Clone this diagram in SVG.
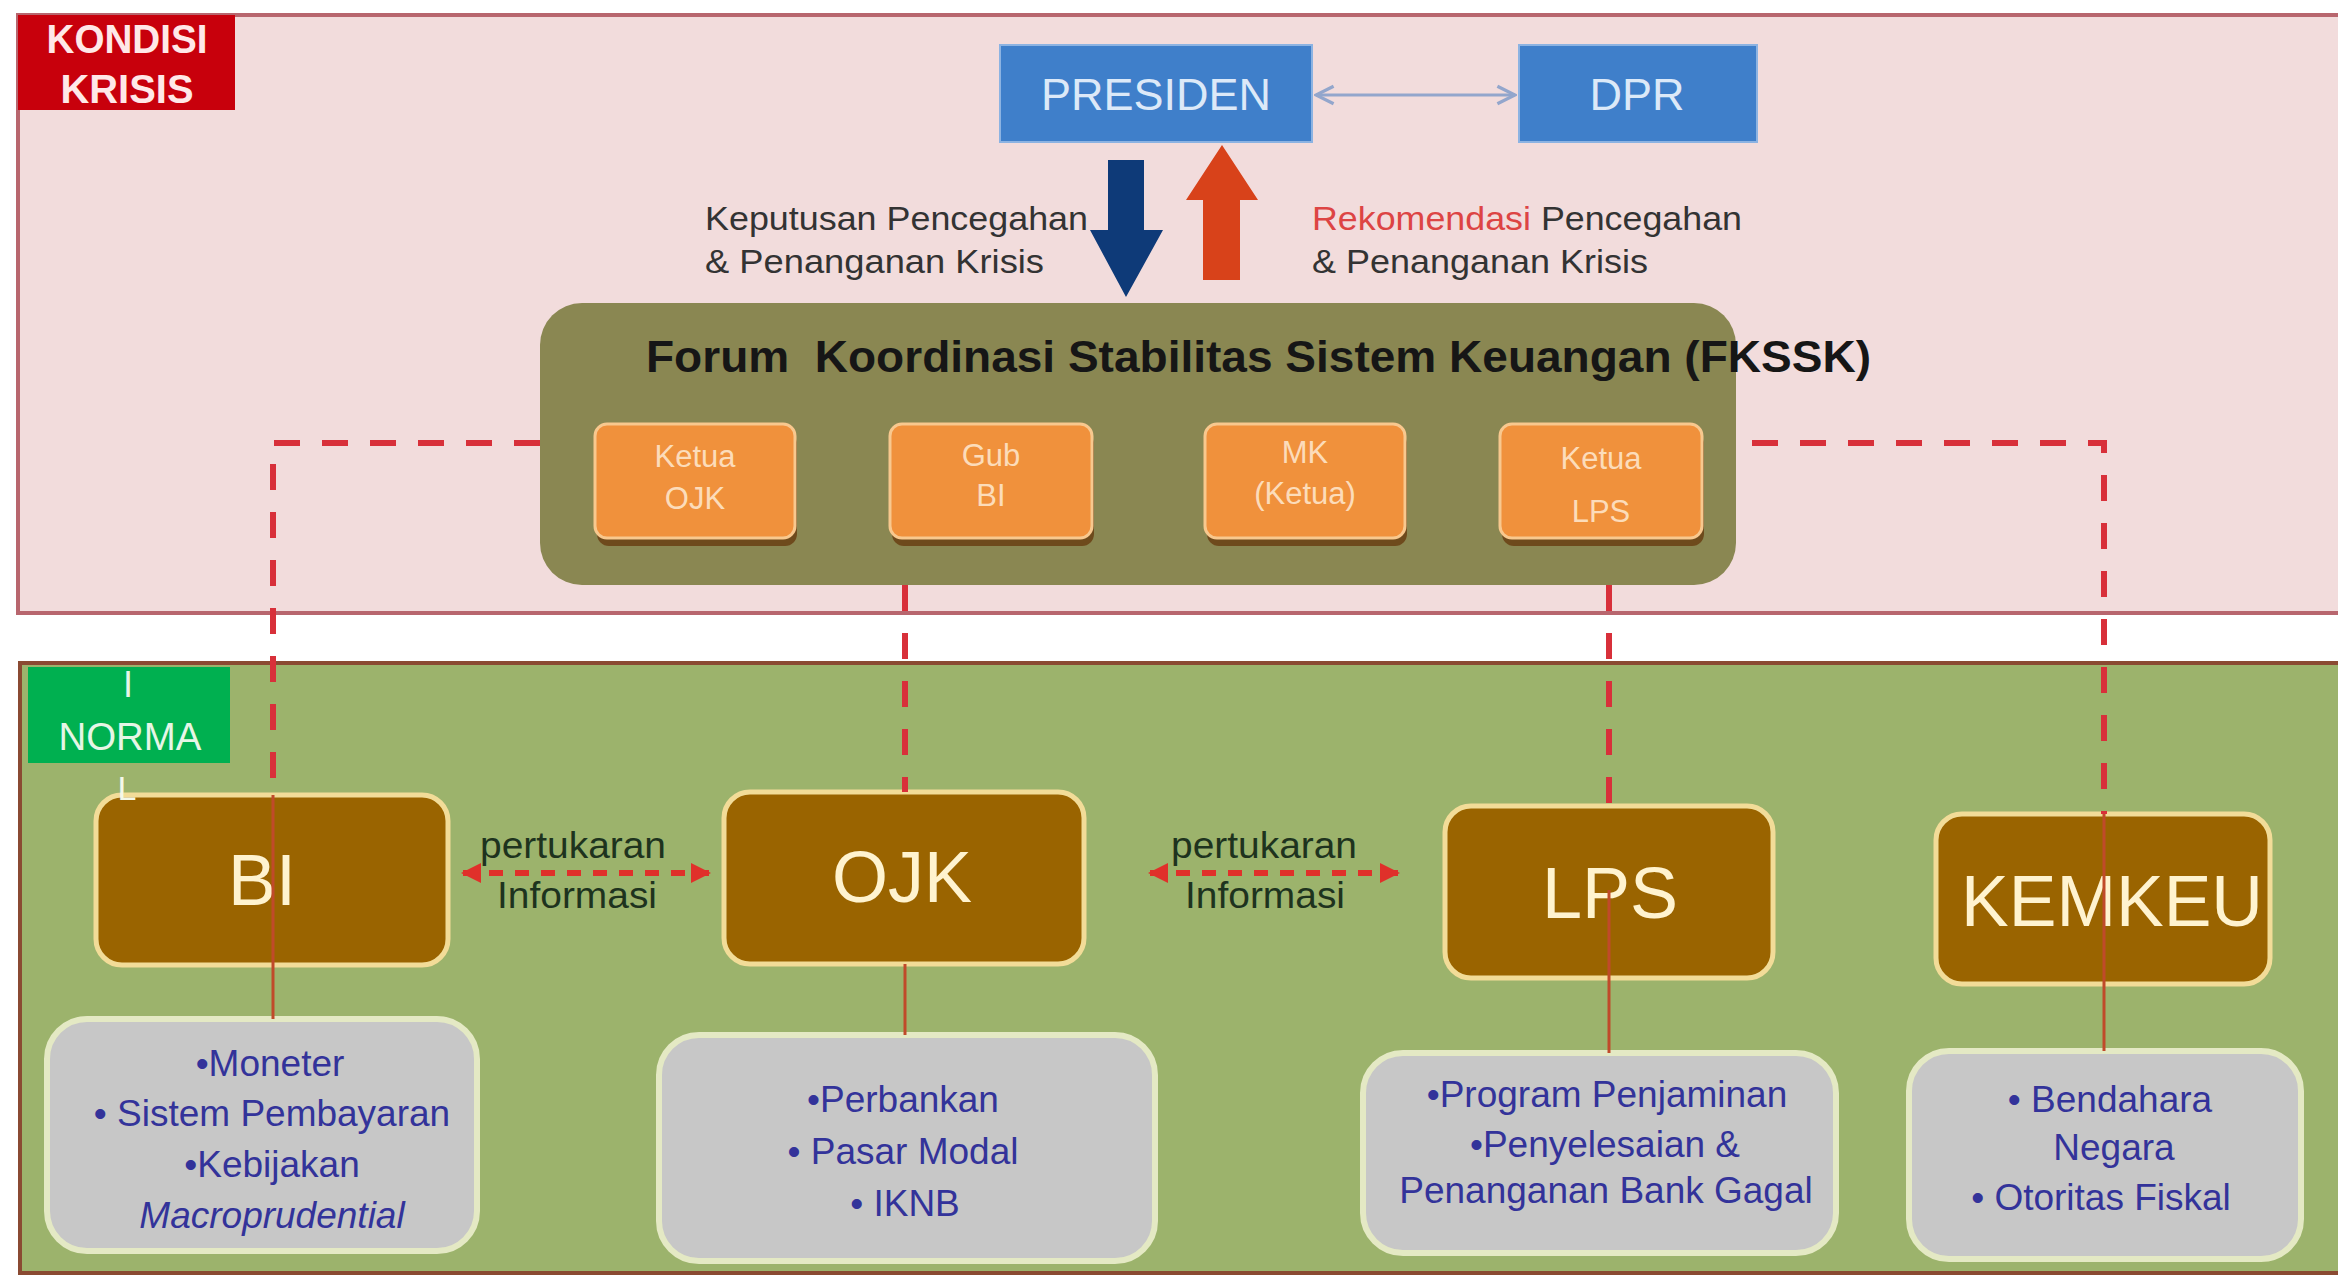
<svg xmlns="http://www.w3.org/2000/svg" width="2338" height="1279" viewBox="0 0 2338 1279">
<style>
.sans{font-family:"Liberation Sans",Arial,sans-serif}
.lbl{font-family:"Liberation Sans",Arial,sans-serif;fill:#333333}
.org{fill:#f0913c;stroke:#f8c88e;stroke-width:3}
.orgsh{fill:#6e4a1c}
.orgt{font-family:"Liberation Sans",Arial,sans-serif;font-size:31px;fill:#fcdcba;text-anchor:middle}
.brn{fill:#9a6400;stroke:#f2dc98;stroke-width:5}
.brnt{font-family:"Liberation Sans",Arial,sans-serif;font-size:72px;fill:#fff3cf;text-anchor:middle}
.gry{fill:#c7c7c7;stroke:#e4e9c4;stroke-width:6}
.bul{font-family:"Liberation Sans",Arial,sans-serif;font-size:37px;fill:#33339a;text-anchor:middle}
.blu{fill:#3f7fca;stroke:#8cb3e2;stroke-width:2}
.blut{font-family:"Liberation Sans",Arial,sans-serif;font-size:45px;fill:#dce9f8;text-anchor:middle}
.dash{fill:none;stroke:#d8303a;stroke-width:6;stroke-dasharray:26 22}
.solid{fill:none;stroke:#c04a2a;stroke-width:3}
.xchg{fill:none;stroke:#e0302a;stroke-width:6;stroke-dasharray:14 12}
.pt{font-family:"Liberation Sans",Arial,sans-serif;font-size:37px;fill:#1e331e;text-anchor:middle}
</style>
<defs>
<marker id="redHead" viewBox="0 0 10 10" refX="9" refY="5" markerWidth="20" markerHeight="20" markerUnits="userSpaceOnUse" orient="auto-start-reverse">
<path d="M0,0 L10,5 L0,10 z" fill="#e0302a"/>
</marker>
<marker id="chev" viewBox="0 0 10 10" refX="9" refY="5" markerWidth="22" markerHeight="22" markerUnits="userSpaceOnUse" orient="auto-start-reverse">
<path d="M1,1 L9,5 L1,9" fill="none" stroke="#93a6cc" stroke-width="1.5"/>
</marker>
</defs>
<rect x="0" y="0" width="2338" height="1279" fill="#ffffff"/>
<g id="panel-krisis">
<rect x="18" y="15" width="2340" height="598" fill="#f2dcdc" stroke="#b8666e" stroke-width="4"/>
<rect x="18" y="15" width="217" height="95" fill="#c8000c"/>
<text class="sans" x="127" y="53" font-size="40" font-weight="bold" fill="#ffe8e8" text-anchor="middle" textLength="161" lengthAdjust="spacingAndGlyphs">KONDISI</text>
<text class="sans" x="127" y="103" font-size="40" font-weight="bold" fill="#ffe8e8" text-anchor="middle" textLength="133" lengthAdjust="spacingAndGlyphs">KRISIS</text>
</g>
<g id="panel-normal">
<rect x="20" y="663" width="2340" height="610" fill="#9cb36c" stroke="#8a4a32" stroke-width="4"/>
</g>
<g id="fkssk">
<rect x="540" y="303" width="1196" height="282" rx="42" fill="#8a8752"/>
<text class="sans" x="646" y="372" font-size="44" font-weight="bold" fill="#161616" style="white-space:pre" textLength="1225" lengthAdjust="spacingAndGlyphs">Forum  Koordinasi Stabilitas Sistem Keuangan (FKSSK)</text>
</g>
<g id="ketua-ojk">
<rect class="orgsh" x="597" y="432" width="200" height="114" rx="12"/>
<rect class="org" x="595" y="424" width="200" height="114" rx="12"/>
<text class="orgt" x="695" y="467">Ketua</text>
<text class="orgt" x="695" y="509">OJK</text>
</g>
<g id="gub-bi">
<rect class="orgsh" x="892" y="432" width="202" height="114" rx="12"/>
<rect class="org" x="890" y="424" width="202" height="114" rx="12"/>
<text class="orgt" x="991" y="466">Gub</text>
<text class="orgt" x="991" y="506">BI</text>
</g>
<g id="mk-ketua">
<rect class="orgsh" x="1207" y="432" width="200" height="114" rx="12"/>
<rect class="org" x="1205" y="424" width="200" height="114" rx="12"/>
<text class="orgt" x="1305" y="463">MK</text>
<text class="orgt" x="1305" y="504">(Ketua)</text>
</g>
<g id="ketua-lps">
<rect class="orgsh" x="1502" y="432" width="202" height="114" rx="12"/>
<rect class="org" x="1500" y="424" width="202" height="114" rx="12"/>
<text class="orgt" x="1601" y="469">Ketua</text>
<text class="orgt" x="1601" y="522">LPS</text>
</g>
<g id="presiden">
<rect class="blu" x="1000" y="45" width="312" height="97"/>
<text class="blut" x="1156" y="110" textLength="230" lengthAdjust="spacingAndGlyphs">PRESIDEN</text>
</g>
<g id="dpr">
<rect class="blu" x="1519" y="45" width="238" height="97"/>
<text class="blut" x="1637" y="110">DPR</text>
</g>
<g id="bi">
<rect class="brn" x="96" y="795" width="352" height="170" rx="26"/>
<text class="brnt" x="262" y="905">BI</text>
</g>
<g id="ojk">
<rect class="brn" x="724" y="792" width="360" height="172" rx="26"/>
<text class="brnt" x="902" y="902">OJK</text>
</g>
<g id="lps">
<rect class="brn" x="1445" y="806" width="328" height="172" rx="26"/>
<text class="brnt" x="1610" y="918">LPS</text>
</g>
<g id="kemkeu">
<rect class="brn" x="1936" y="814" width="334" height="170" rx="26"/>
<text class="brnt" x="2112" y="926" textLength="302" lengthAdjust="spacingAndGlyphs">KEMKEU</text>
</g>
<g id="label-normal">
<rect x="28" y="667" width="202" height="96" fill="#00b050"/>
<text class="sans" x="128" y="697" font-size="36" fill="#e6f6e6" text-anchor="middle">I</text>
<text class="sans" x="130" y="750" font-size="38" fill="#e6f6e6" text-anchor="middle" textLength="143" lengthAdjust="spacingAndGlyphs">NORMA</text>
<text class="sans" x="127" y="800" font-size="34" fill="#f4f8e8" text-anchor="middle">L</text>
</g>
<g id="bi-tugas">
<rect class="gry" x="47" y="1019" width="430" height="232" rx="40"/>
<text class="bul" x="270" y="1076">•Moneter</text>
<text class="bul" x="272" y="1126">• Sistem Pembayaran</text>
<text class="bul" x="272" y="1177">•Kebijakan</text>
<text class="bul" x="272" y="1228" font-style="italic">Macroprudential</text>
</g>
<g id="ojk-tugas">
<rect class="gry" x="659" y="1035" width="496" height="226" rx="40"/>
<text class="bul" x="903" y="1112">•Perbankan</text>
<text class="bul" x="903" y="1164">• Pasar Modal</text>
<text class="bul" x="905" y="1216">• IKNB</text>
</g>
<g id="lps-tugas">
<rect class="gry" x="1363" y="1053" width="473" height="200" rx="40"/>
<text class="bul" x="1607" y="1107" font-size="36">•Program Penjaminan</text>
<text class="bul" x="1605" y="1157" font-size="36">•Penyelesaian &amp;</text>
<text class="bul" x="1606" y="1203" font-size="36">Penanganan Bank Gagal</text>
</g>
<g id="kemkeu-tugas">
<rect class="gry" x="1909" y="1051" width="392" height="208" rx="40"/>
<text class="bul" x="2110" y="1112">• Bendahara</text>
<text class="bul" x="2114" y="1160">Negara</text>
<text class="bul" x="2101" y="1210">• Otoritas Fiskal</text>
</g>
<g id="connectors">
<path class="dash" d="M540,443 H273 V795"/>
<path class="solid" d="M273,795 V1019"/>
<path class="dash" d="M905,585 V792"/>
<path class="solid" d="M905,964 V1035"/>
<path class="dash" d="M1609,585 V806"/>
<path class="solid" d="M1609,890 V1053"/>
<path class="dash" d="M1752,443 H2104 V814"/>
<path class="solid" d="M2104,814 V1051"/>
<line class="xchg" x1="463" y1="873" x2="709" y2="873" marker-start="url(#redHead)" marker-end="url(#redHead)"/>
<line class="xchg" x1="1150" y1="873" x2="1398" y2="873" marker-start="url(#redHead)" marker-end="url(#redHead)"/>
<line x1="1316" y1="95" x2="1515" y2="95" stroke="#93a6cc" stroke-width="3" marker-start="url(#chev)" marker-end="url(#chev)"/>
<polygon points="1108,160 1144,160 1144,230 1163,230 1126,297 1090,230 1108,230" fill="#0e3a78"/>
<polygon points="1203,280 1240,280 1240,200 1258,200 1222,145 1186,200 1203,200" fill="#d8421a"/>
</g>
<g id="labels">
<text class="lbl" x="705" y="230" font-size="33" textLength="383" lengthAdjust="spacingAndGlyphs">Keputusan Pencegahan</text>
<text class="lbl" x="705" y="273" font-size="33" textLength="339" lengthAdjust="spacingAndGlyphs">&amp; Penanganan Krisis</text>
<text class="lbl" x="1312" y="230" font-size="33" textLength="430" lengthAdjust="spacingAndGlyphs"><tspan fill="#dd4444">Rekomendasi</tspan> Pencegahan</text>
<text class="lbl" x="1312" y="273" font-size="33" textLength="336" lengthAdjust="spacingAndGlyphs">&amp; Penanganan Krisis</text>
<text class="pt" x="573" y="858" textLength="186" lengthAdjust="spacingAndGlyphs">pertukaran</text>
<text class="pt" x="577" y="908" textLength="160" lengthAdjust="spacingAndGlyphs">Informasi</text>
<text class="pt" x="1264" y="858" textLength="186" lengthAdjust="spacingAndGlyphs">pertukaran</text>
<text class="pt" x="1265" y="908" textLength="160" lengthAdjust="spacingAndGlyphs">Informasi</text>
</g>
</svg>
